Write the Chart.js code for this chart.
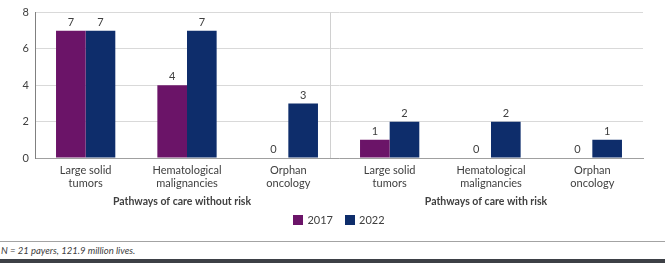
<!DOCTYPE html>
<html>
<head>
<meta charset="utf-8">
<script src="https://cdn.jsdelivr.net/npm/chart.js@4"></script>
<style>
  html, body { margin: 0; padding: 0; background: #fff; }
  body { width: 665px; height: 263px; overflow: hidden; position: relative; font-family: Lato, "Open Sans", sans-serif; }
  #wrap { position: absolute; left: 0; top: 0; width: 665px; height: 241px; }
  #rule { position: absolute; left: 0; top: 241px; width: 665px; height: 0; border-top: 1px solid #a3a3a3; }
  #note { position: absolute; left: 1px; top: 245px; font: italic 9.5px Lato, "Open Sans", sans-serif; color: #404040; white-space: nowrap; }
  #bar { position: absolute; left: 0; top: 259px; width: 665px; height: 4px; background: #3d4046; }
</style>
</head>
<body>
<div id="wrap"><canvas id="c" width="665" height="241"></canvas></div>
<div id="rule"></div>
<div id="note">N = 21 payers, 121.9 million lives.</div>
<div id="bar"></div>
<script>
const categories = [
  ["Large solid", "tumors"], ["Hematological", "malignancies"], ["Orphan", "oncology"],
  ["Large solid", "tumors"], ["Hematological", "malignancies"], ["Orphan", "oncology"]
];
const groups = ["Pathways of care without risk", "Pathways of care with risk"];
const seriesNames = ["2017", "2022"];
const values2017 = [7, 4, 0, 1, 0, 0];
const values2022 = [7, 7, 3, 2, 2, 1];
const yTicks = [0, 2, 4, 6, 8];

const COL17 = "#6b1468";
const COL22 = "#0e2d6b";
const TXT = "#404040";
const FONT = "Lato, 'Open Sans', sans-serif";

const extras = {
  id: "extras",
  afterDatasetsDraw(chart) {
    const ctx = chart.ctx;
    const x = chart.scales.x;
    const area = chart.chartArea;
    ctx.save();
    const step = x.getPixelForValue(1) - x.getPixelForValue(0);
    const sepX = Math.round(x.getPixelForValue(2) + step * 0.41) + 0.5;
    ctx.strokeStyle = "#d0d0d0";
    ctx.lineWidth = 1;
    ctx.beginPath();
    ctx.moveTo(sepX, area.top);
    ctx.lineTo(sepX, area.bottom);
    ctx.stroke();
    ctx.fillStyle = TXT;
    ctx.font = "11px " + FONT;
    ctx.textAlign = "center";
    ctx.textBaseline = "bottom";
    chart.data.datasets.forEach((ds, di) => {
      const meta = chart.getDatasetMeta(di);
      meta.data.forEach((el, i) => {
        ctx.fillText(String(ds.data[i]), el.x, el.y - 3);
      });
    });
    ctx.font = "bold 10.5px " + FONT;
    ctx.textBaseline = "middle";
    groups.forEach((g, gi) => {
      const cx = x.getPixelForValue(gi * 3 + 1) - 5;
      ctx.fillText(g, cx, 201.5);
    });
    ctx.font = "11px " + FONT;
    ctx.textAlign = "left";
    const cols = [COL17, COL22];
    const midX = (area.left + area.right) / 2;
    const w0 = ctx.measureText(seriesNames[0]).width;
    const w1 = ctx.measureText(seriesNames[1]).width;
    const total = 10 + 4 + w0 + 12 + 10 + 4 + w1;
    let lx = midX - total / 2;
    [w0, w1].forEach((w, i) => {
      ctx.fillStyle = cols[i];
      ctx.fillRect(Math.round(lx), 215, 10, 10);
      ctx.fillStyle = TXT;
      ctx.fillText(seriesNames[i], lx + 14, 220.5);
      lx += 14 + w + 12;
    });
    ctx.restore();
  }
};

new Chart(document.getElementById("c"), {
  type: "bar",
  data: {
    labels: categories,
    datasets: [
      { label: seriesNames[0], data: values2017, backgroundColor: COL17 },
      { label: seriesNames[1], data: values2022, backgroundColor: COL22 }
    ]
  },
  options: {
    responsive: false,
    animation: false,
    devicePixelRatio: 1,
    layout: { padding: { left: 0, right: 22, top: 4, bottom: 0 } },
    datasets: { bar: { categoryPercentage: 0.585, barPercentage: 1.0 } },
    plugins: { legend: { display: false }, tooltip: { enabled: false } },
    scales: {
      x: {
        grid: { display: false, drawTicks: false },
        border: { color: "#a0a0a0", width: 1 },
        ticks: { color: TXT, font: { family: FONT, size: 11, lineHeight: 1.15 }, padding: 6, maxRotation: 0, autoSkip: false },
        afterFit(s) { s.height = 83; }
      },
      y: {
        min: 0, max: 8,
        afterBuildTicks(s) { s.ticks = yTicks.map(v => ({ value: v })); },
        grid: { color: "#d9d9d9", drawTicks: false },
        border: { color: "#808080", width: 1 },
        ticks: { color: TXT, font: { family: FONT, size: 11 }, padding: 6 },
        afterFit(s) { s.width = 35; }
      }
    }
  },
  plugins: [extras]
});
</script>
</body>
</html>
